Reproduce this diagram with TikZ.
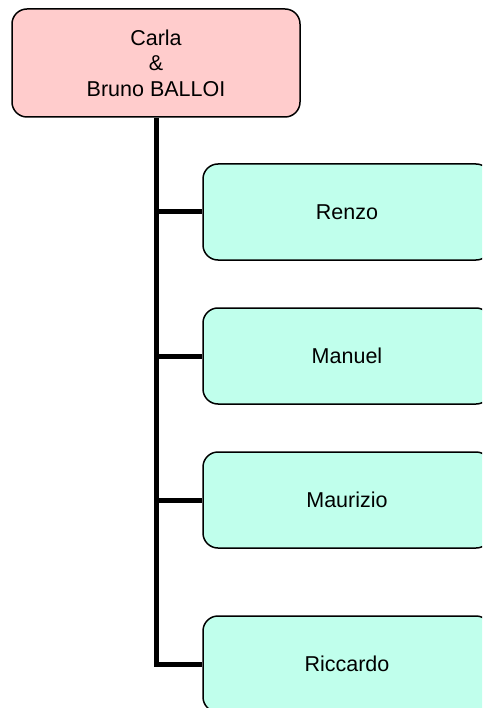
\documentclass[tikz,border=0pt]{standalone}
\usepackage{fontspec}
\setmainfont{Liberation Sans}
\definecolor{parentpink}{RGB}{255,204,204}
\definecolor{childgreen}{RGB}{192,255,236}
\tikzset{
	famnode/.style={draw=black,line width=1.5pt,rounded corners=15pt,align=center,
		minimum width=288pt,font=\fontsize{21.5}{25.5}\selectfont},
	parentbox/.style={famnode,fill=parentpink,minimum height=108pt},
	childbox/.style={famnode,fill=childgreen,minimum height=96pt},
	trunk/.style={line width=5pt,line join=miter}
}
\begin{document}
\begin{tikzpicture}[x=1pt,y=-1pt]
	\useasboundingbox (0,0) rectangle (482,708);
	\clip (0,0) rectangle (482,708);
	\node[parentbox] (parents) at (156,63) {Carla\\\&\\Bruno BALLOI};
	\foreach \name/\y/\kid in {c1/212/Renzo,c2/356/Manuel,c3/500/Maurizio,c4/664/Riccardo}
		\node[childbox] (\name) at (347,\y) {\kid};
	\draw[trunk] (parents.south) -- (parents.south |- c4.west) -- (c4.west);
	\foreach \name in {c1,c2,c3}
		\draw[trunk] (parents.south |- \name.west) -- (\name.west);
\end{tikzpicture}
\end{document}
